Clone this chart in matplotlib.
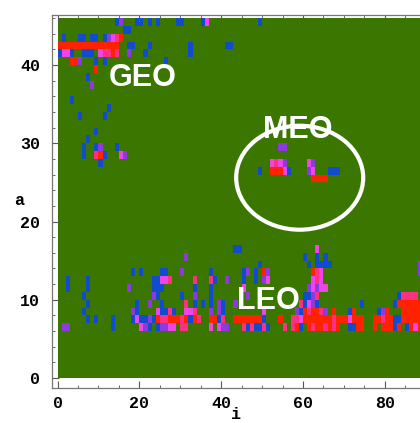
import numpy as np
import matplotlib
matplotlib.use("Agg")
import matplotlib.pyplot as plt
from matplotlib.colors import ListedColormap, BoundaryNorm
from matplotlib.patches import Ellipse

# occupied (i, a) cells, one list per colour level (low count -> high count)
blue = [(14,45),(19,45),(20,45),(22,45),(24,45),(29,45),(30,45),(35,45),(49,45),
        (16,44),(17,44),
        (1,43),(5,43),(6,43),(8,43),(9,43),(11,43),
        (17,42),(18,42),(22,42),(32,42),(41,42),(42,42),
        (0,41),(3,41),(6,41),(7,41),(8,41),(21,41),(32,41),
        (9,40),(11,40),(26,40),
        (7,38),(3,35),(12,34),(5,33),(11,33),(9,31),(7,30),
        (6,29),(9,29),(14,29),(6,28),(11,28),(10,27),
        (49,26),(56,26),(66,26),(67,26),(68,26),
        (43,16),(44,16),
        (60,15),(63,15),(65,15),
        (49,14),(61,14),(63,14),(64,14),(65,14),(66,14),
        (18,13),(20,13),(25,13),(26,13),(37,13),(45,13),(48,13),
        (2,12),(7,12),(23,12),(24,12),(38,12),(45,12),(48,12),
        (2,11),(7,11),(23,11),(24,11),(25,11),(33,11),(37,11),
        (6,10),(24,10),(30,10),(37,10),(60,10),(61,10),(83,10),
        (7,9),(19,9),(25,9),(33,9),(35,9),(37,9),(40,9),(60,9),(63,9),(74,9),(82,9),
        (6,8),(19,8),(25,8),(26,8),(28,8),(40,8),(59,8),(71,8),(78,8),
        (7,7),(9,7),(13,7),(18,7),(20,7),(21,7),(23,7),(32,7),(39,7),(50,7),(82,7),(83,7),
        (13,6),(22,6),(24,6),(46,6),(48,6),(49,6),(51,6),(59,6),(71,6),(72,6),(82,6),(85,6)]

purple = [(15,45),(12,43),(17,41),(5,40),(8,37),(10,29),(54,29),(55,29),(16,28),
          (55,27),(62,27),(61,26),
          (31,15),(88,14),(30,13),(46,13),(51,13),(88,13),(41,12),(50,12),
          (17,11),(61,11),(63,11),(23,10),(33,10),(46,10),(62,10),
          (22,9),(39,9),(43,9),(62,9),(18,8),(37,8),(39,8),(58,8),(65,8),(79,8),
          (22,7),(1,6),(2,6),(21,6),(25,6),(26,6),(40,6),(41,6)]

magenta = [(36,45),(13,43),(1,41),(2,41),(10,41),(15,28),(52,27),(54,27),(61,27),
           (55,26),(62,26),
           (63,16),(64,13),(25,12),(26,12),(51,12),(62,12),(64,12),
           (45,11),(62,11),(64,11),(65,11),(61,9),(24,8),(31,8),(32,8),(50,8),
           (19,7),(59,7),(71,7),(20,6),(27,6),(28,6),(37,6),(39,6),(87,6)]

pink = [(14,43),(11,41),(12,41),(14,41),(9,28),(53,27),
        (63,13),(27,12),(33,12),(37,12),(63,12),
        (63,10),(84,10),(85,10),(86,10),(87,10),(31,9),(59,9),
        (27,8),(33,8),(61,8),(64,8),
        (25,7),(26,7),(30,7),(34,7),(40,7),(57,7),(58,7),(67,7),(79,7),
        (30,6),(31,6),(45,6),(47,6),(50,6),(55,6),(57,6),(62,6),(65,6),(67,6)]

red = [(0,42),(1,42),(2,42),(3,42),(4,42),(5,42),(6,42),(7,42),(8,42),(9,42),
       (10,42),(11,42),(12,42),(13,42),(14,42),
       (15,43),(13,41),(3,40),(4,40),(9,39),(10,28),
       (52,26),(53,26),(54,26),(62,25),(63,25),(64,25),(65,25),
       (50,13),(62,13),
       (83,9),(84,9),(85,9),(86,9),(87,9),(88,9),
       (60,8),(62,8),(63,8),(67,8),(72,8),(80,8),(84,8),(85,8),(86,8),(87,8),(88,8),
       (24,7),(27,7),(28,7),(29,7),(31,7),(33,7),(37,7),(38,7),(43,7),(44,7),
       (45,7),(46,7),(47,7),(48,7),(49,7),(54,7),(60,7),(61,7),(62,7),(63,7),
       (64,7),(65,7),(66,7),(68,7),(69,7),(70,7),(72,7),(73,7),(74,7),(77,7),
       (78,7),(80,7),(81,7),(84,7),(85,7),(86,7),(87,7),(88,7),
       (58,6),(61,6),(63,6),(64,6),(66,6),(68,6),(73,6),(74,6),(77,6),(79,6),
       (80,6),(81,6),(83,6),(86,6),(88,6)]

n_i, n_a = 100, 46
grid = np.zeros((n_a, n_i))
for level, cells in enumerate([blue, purple, magenta, pink, red], start=1):
    for i, a in cells:
        grid[a, i] = level

colors = ["#3a7600", "#104ccc", "#8c3ae0", "#ee44e8", "#ff3080", "#ff2200"]
cmap = ListedColormap(colors)
norm = BoundaryNorm(np.arange(-0.5, 6.5, 1), cmap.N)

fig = plt.figure(figsize=(4.2, 4.23), dpi=100)
ax = fig.add_axes([51.5/420, 35/423, (440-51.5)/420, 373/423])

ax.pcolormesh(np.arange(n_i + 1), np.arange(n_a + 1), grid, cmap=cmap, norm=norm)

ax.add_patch(Ellipse((59.2, 25.6), 127/4.09, 104/7.825, fill=False,
                     edgecolor="white", linewidth=3.0))

lab = dict(color="white", fontsize=22, fontweight="bold", family="Liberation Sans",
           ha="center", va="center")
ax.text(20.7, 38.4, "GEO", **lab)
ax.text(58.8, 31.7, "MEO", **lab)
ax.text(51.5, 9.8, "LEO", **lab)

ax.set_xlim(-1.47, 93.5)
ax.set_ylim(-1.28, 46.4)
ax.set_xticks([0, 20, 40, 60, 80])
ax.set_xticks(np.arange(0, 95, 5), minor=True)
ax.set_yticks([0, 10, 20, 30, 40])
ax.set_yticks(np.arange(0, 47, 2), minor=True)
ax.tick_params(which="both", direction="in", top=True, right=True, color="#555555")
ax.tick_params(which="major", length=5, width=0.8)
ax.tick_params(which="minor", length=2.5, width=0.6)
for s in ax.spines.values():
    s.set_color("#777777")
    s.set_linewidth(0.9)

tick_font = dict(family="Liberation Mono", weight="bold", size=12)
for t in ax.get_xticklabels() + ax.get_yticklabels():
    t.set_fontproperties(matplotlib.font_manager.FontProperties(**tick_font))
ax.tick_params(axis="x", pad=6)
ax.tick_params(axis="y", pad=8)

fig.text(236/420, 1 - 414/423, "i", ha="center", va="center", **tick_font)
fig.text(19/420, 1 - 200/423, "a", ha="center", va="center", **tick_font)

fig.savefig("out.png", dpi=100)
